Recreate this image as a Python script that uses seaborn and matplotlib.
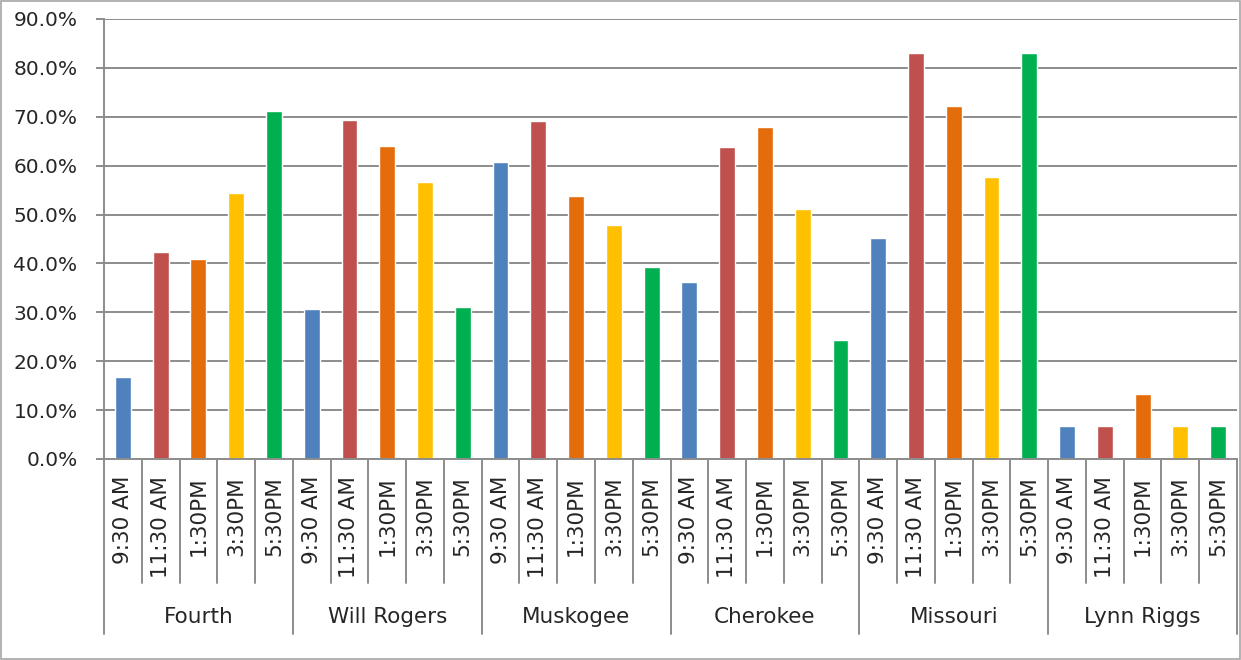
import pandas as pd
import seaborn as sns
import matplotlib.pyplot as plt
from matplotlib.patches import Rectangle
from matplotlib.ticker import PercentFormatter

# Sites and time slots
sites = ['Fourth', 'Will Rogers', 'Muskogee', 'Cherokee', 'Missouri', 'Lynn Riggs']
times = ['9:30 AM', '11:30 AM', '1:30PM', '3:30PM', '5:30PM']

# Percent values per site (one entry per time slot)
fourth = [16.8, 42.3, 40.9, 54.4, 71.2]
will_rogers = [30.7, 69.3, 64.0, 56.6, 31.1]
muskogee = [60.7, 69.2, 53.8, 47.9, 39.3]
cherokee = [36.2, 63.9, 67.9, 51.1, 24.3]
missouri = [45.2, 83.0, 72.2, 57.7, 83.0]
lynn_riggs = [6.7, 6.7, 13.3, 6.7, 6.7]

colors = ['#4F81BD', '#C0504D', '#E46C0A', '#FFC000', '#00B050']

rows = []
for site, vals in zip(sites, [fourth, will_rogers, muskogee, cherokee, missouri, lynn_riggs]):
    for t, v in zip(times, vals):
        rows.append({'site': site, 'time': t, 'key': site + '|' + t, 'value': v})
df = pd.DataFrame(rows)

sns.set_style('white')
plt.rcParams['font.family'] = ['DejaVu Sans']

W, H = 1241, 660
fig = plt.figure(figsize=(W / 100, H / 100), dpi=100)
x0, x1, y0, y1 = 104, 1237, 19, 459
ax = fig.add_axes([x0 / W, 1 - y1 / H, (x1 - x0) / W, (y1 - y0) / H])

sns.barplot(data=df, x='key', y='value', hue='time', hue_order=times,
            palette=colors, dodge=False, width=0.42, saturation=1,
            legend=False, ax=ax, order=df['key'])

grid_c = '#8C8C8C'
ax.set_ylim(0, 90)
ax.set_xlim(-0.5, len(df) - 0.5)
ax.set_yticks(range(0, 91, 10))
ax.yaxis.set_major_formatter(PercentFormatter(decimals=1))
ax.grid(axis='y', color=grid_c, linewidth=1.4)
ax.set_axisbelow(True)
ax.tick_params(axis='y', length=6, width=1.4, color=grid_c, pad=13, labelsize=14.5, left=True)
ax.set_xticks([])
ax.set_xlabel('')
ax.set_ylabel('')
for s in ['top', 'right']:
    ax.spines[s].set_visible(False)
ax.spines['left'].set_color(grid_c)
ax.spines['left'].set_linewidth(1.4)
ax.spines['bottom'].set_color(grid_c)
ax.spines['bottom'].set_linewidth(1.4)

# Multi-level category axis below the plot
ph = y1 - y0
tr = ax.get_xaxis_transform()
short_end = -(583 - y1) / ph
long_end = -(634 - y1) / ph
for i in range(len(df) + 1):
    end = long_end if i % len(times) == 0 else short_end
    ax.plot([i - 0.5, i - 0.5], [0, end], transform=tr, color=grid_c,
            linewidth=1.4, clip_on=False)
for i, t in enumerate(df['time']):
    ax.text(i, -(476 - y1) / ph, t, transform=tr, rotation=90,
            ha='center', va='top', fontsize=15.5)
for g, site in enumerate(sites):
    xc = g * len(times) + (len(times) - 1) / 2
    ax.text(xc, -(617 - y1) / ph, site, transform=tr, ha='center',
            va='center', fontsize=15.5)

# Light outer border
fig.patches.append(Rectangle((0.001, 0.001), 0.998, 0.997, transform=fig.transFigure,
                             fill=False, edgecolor='#A6A6A6', linewidth=1.2))

fig.savefig('out.png', dpi=100)
